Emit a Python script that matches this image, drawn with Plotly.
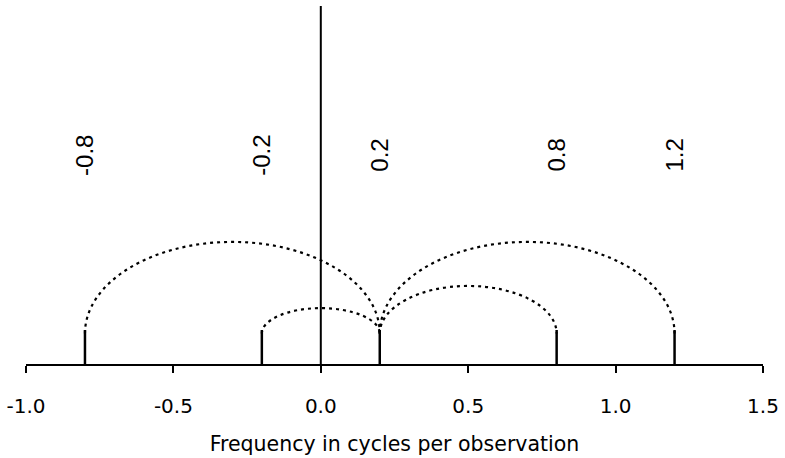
import plotly.graph_objects as go

# Data
spike_freqs = [-0.8, -0.2, 0.2, 0.8, 1.2]
spike_labels = ["-0.8", "-0.2", "0.2", "0.8", "1.2"]
spike_height = 0.95

arc_starts = [-0.8, -0.2, 0.2, 0.2]
arc_ends = [0.2, 0.2, 0.8, 1.2]
arc_peaks = [3.41, 1.56, 2.18, 3.41]
arc_base = 0.85

tick_vals = [-1.0, -0.5, 0.0, 0.5, 1.0, 1.5]
tick_text = ["-1.0", "-0.5", "0.0", "0.5", "1.0", "1.5"]

label_y = 5.84
y_top = 10.0

fig = go.Figure()

# spikes
sx, sy = [], []
for f in spike_freqs:
    sx += [f, f, None]
    sy += [0, spike_height, None]
fig.add_trace(go.Scatter(x=sx, y=sy, mode="lines",
                         line=dict(color="black", width=2.5),
                         hoverinfo="skip", showlegend=False))

# zero line
fig.add_trace(go.Scatter(x=[0, 0], y=[0, y_top], mode="lines",
                         line=dict(color="black", width=2),
                         hoverinfo="skip", showlegend=False))

# arcs (semi-ellipses via cubic beziers)
k = 0.5523
for a, b, p in zip(arc_starts, arc_ends, arc_peaks):
    c = (a + b) / 2
    r = (b - a) / 2
    h = p - arc_base
    path = (f"M {a},{arc_base} "
            f"C {a},{arc_base + k*h} {c - k*r},{p} {c},{p} "
            f"C {c + k*r},{p} {b},{arc_base + k*h} {b},{arc_base}")
    fig.add_shape(type="path", path=path, xref="x", yref="y",
                  line=dict(color="black", width=2.2, dash="3px,4px"))

# labels
for f, t in zip(spike_freqs, spike_labels):
    fig.add_annotation(x=f, y=label_y, text=t, showarrow=False,
                       textangle=-90, xref="x", yref="y",
                       font=dict(family="Liberation Sans, Arial", size=24, color="black"))

fig.update_layout(
    width=785, height=458,
    margin=dict(l=26, r=19, t=6, b=94),
    plot_bgcolor="white", paper_bgcolor="white",
    showlegend=False,
)
fig.update_xaxes(range=[-1.0, 1.5], tickvals=tick_vals, ticktext=tick_text,
                 ticks="outside", ticklen=7, tickwidth=2, tickcolor="black",
                 showline=True, linecolor="black", linewidth=2,
                 showgrid=False, zeroline=False, ticklabelstandoff=16,
                 tickfont=dict(family="DejaVu Sans", size=20, color="black"),
                 title=dict(text="Frequency in cycles per observation",
                            font=dict(family="DejaVu Sans", size=20.5, color="black"),
                            standoff=20))
fig.update_yaxes(range=[0, y_top], visible=False, showgrid=False, zeroline=False)

fig.write_html("out.html")
